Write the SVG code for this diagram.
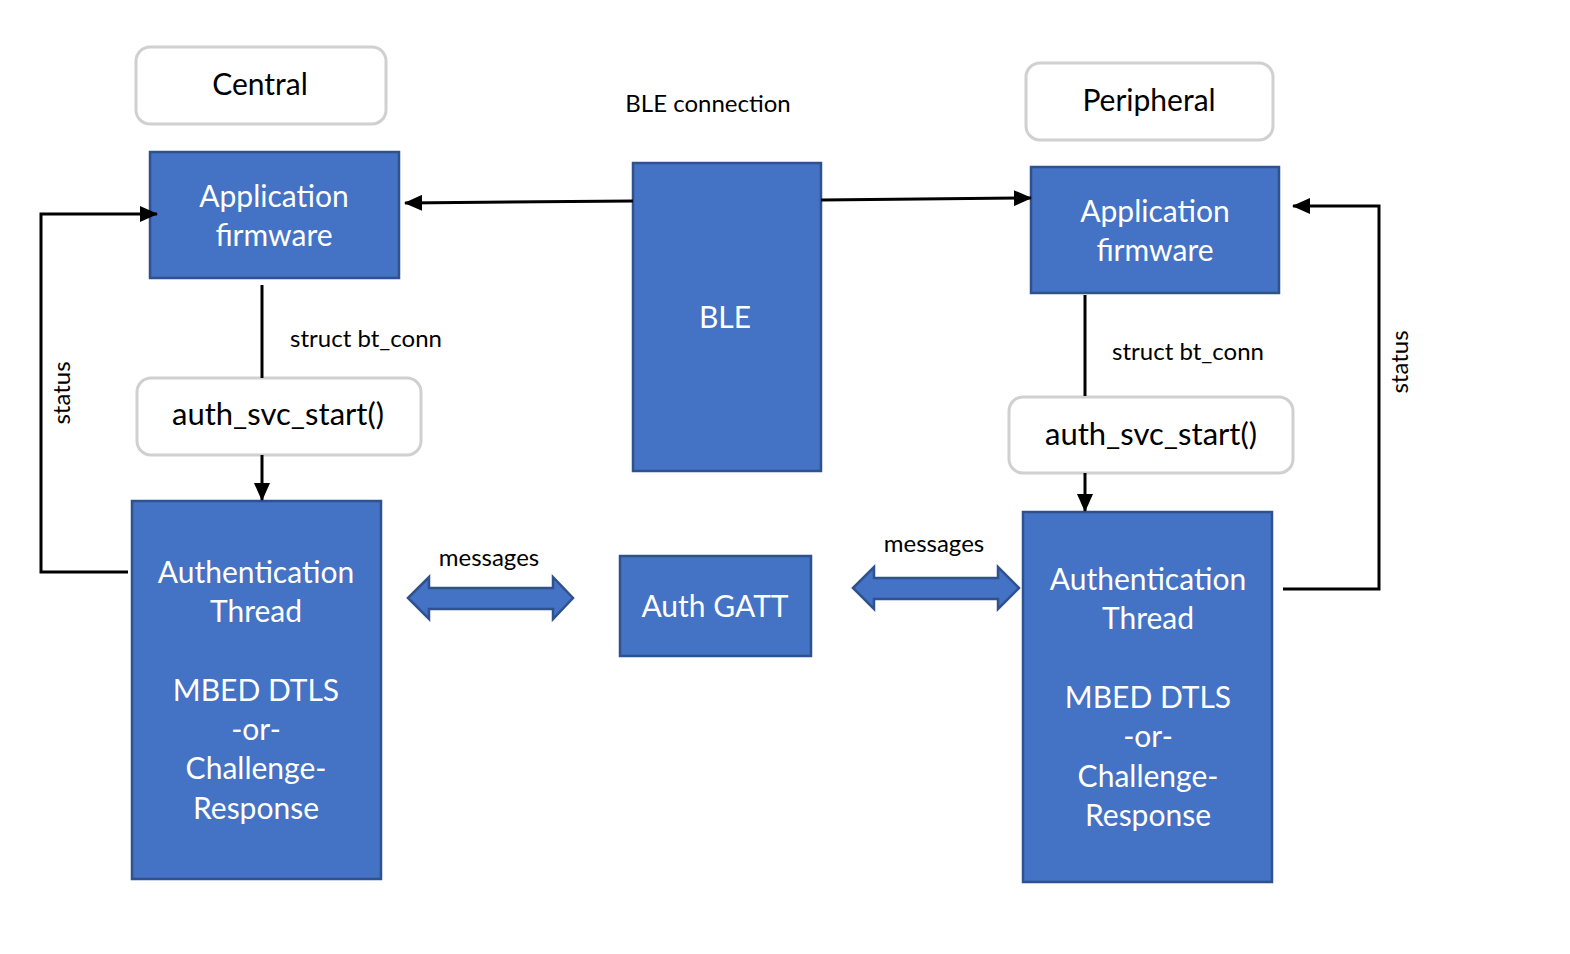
<svg xmlns="http://www.w3.org/2000/svg" width="1570" height="954" viewBox="0 0 1570 954">
<style>
.blue{fill:#4472C4;stroke:#2F528F;stroke-width:2.5}
.white{fill:#fff;stroke:#D0D0D0;stroke-width:3}
.wt{fill:#fff;font-family:Lato,"Open Sans",sans-serif;font-size:30px;text-anchor:middle}
.bt{fill:#000;font-family:Lato,"Open Sans",sans-serif;text-anchor:middle}
.sm{font-size:24px}
.lg{font-size:30px}
.ln{fill:none;stroke:#000;stroke-width:3}
.dbl{fill:#4472C4;stroke:#2F528F;stroke-width:2.5}
</style>
<defs>
<marker id="arr" viewBox="0 0 18 16" refX="17" refY="8" markerWidth="18" markerHeight="16" markerUnits="userSpaceOnUse" orient="auto">
<path d="M0,0 L18,8 L0,16 Z" fill="#000"/>
</marker>
</defs>
<rect width="1570" height="954" fill="#fff"/>

<g id="central">
<rect class="white" x="136" y="47" width="250" height="77" rx="14"/>
<text class="bt lg" x="260" y="95">Central</text>
</g>
<g id="peripheral">
<rect class="white" x="1026" y="63" width="247" height="77" rx="14"/>
<text class="bt lg" x="1149" y="111">Peripheral</text>
</g>
<g id="ble-connection-label">
<text class="bt sm" x="708" y="112">BLE connection</text>
</g>
<g id="app-left">
<rect class="blue" x="150" y="152" width="249" height="126"/>
<text class="wt" x="274" y="207">Application</text>
<text class="wt" x="274" y="246">firmware</text>
</g>
<g id="app-right">
<rect class="blue" x="1031" y="167" width="248" height="126"/>
<text class="wt" x="1155" y="222">Application</text>
<text class="wt" x="1155" y="261">firmware</text>
</g>
<g id="ble">
<rect class="blue" x="633" y="163" width="188" height="308"/>
<text class="wt" x="725" y="328">BLE</text>
</g>
<g id="auth-gatt">
<rect class="blue" x="620" y="556" width="191" height="100"/>
<text class="wt" x="715" y="617">Auth GATT</text>
</g>
<g id="svc-left">
<rect class="white" x="137" y="378" width="284" height="77" rx="14"/>
<text class="bt" x="278" y="425" font-size="31">auth_svc_start()</text>
</g>
<g id="svc-right">
<rect class="white" x="1009" y="397" width="284" height="76" rx="14"/>
<text class="bt" x="1151" y="445" font-size="31">auth_svc_start()</text>
</g>
<g id="thread-left">
<rect class="blue" x="132" y="501" width="249" height="378"/>
<text class="wt" x="256" y="583">Authentication</text>
<text class="wt" x="256" y="622">Thread</text>
<text class="wt" x="256" y="701">MBED DTLS</text>
<text class="wt" x="256" y="740">-or-</text>
<text class="wt" x="256" y="779">Challenge-</text>
<text class="wt" x="256" y="819">Response</text>
</g>
<g id="thread-right">
<rect class="blue" x="1023" y="512" width="249" height="370"/>
<text class="wt" x="1148" y="590">Authentication</text>
<text class="wt" x="1148" y="629">Thread</text>
<text class="wt" x="1148" y="708">MBED DTLS</text>
<text class="wt" x="1148" y="747">-or-</text>
<text class="wt" x="1148" y="787">Challenge-</text>
<text class="wt" x="1148" y="826">Response</text>
</g>

<g id="connectors">
<path class="ln" d="M633,201 L405,203" marker-end="url(#arr)"/>
<path class="ln" d="M821,200 L1031,198" marker-end="url(#arr)"/>
<path class="ln" d="M128,572 L41,572 L41,214 L157,214" marker-end="url(#arr)"/>
<path class="ln" d="M1283,589 L1379,589 L1379,206 L1293,206" marker-end="url(#arr)"/>
<path class="ln" d="M262,285 L262,378"/>
<path class="ln" d="M262,455 L262,500" marker-end="url(#arr)"/>
<path class="ln" d="M1085,295 L1085,396"/>
<path class="ln" d="M1085,473 L1085,511" marker-end="url(#arr)"/>
<path class="dbl" d="M408,598 L429,577 L429,588 L553,588 L553,577 L573,598 L553,619 L553,609 L429,609 L429,619 Z"/>
<path class="dbl" d="M853,588 L874,567 L874,578 L998,578 L998,567 L1019,588 L998,609 L998,599 L874,599 L874,609 Z"/>
<text class="bt sm" x="366" y="347">struct bt_conn</text>
<text class="bt sm" x="1188" y="360">struct bt_conn</text>
<text class="bt sm" x="489" y="566">messages</text>
<text class="bt sm" x="934" y="552">messages</text>
<text class="bt sm" transform="translate(70,393) rotate(-90)">status</text>
<text class="bt sm" transform="translate(1408,362) rotate(-90)">status</text>
</g>
</svg>
